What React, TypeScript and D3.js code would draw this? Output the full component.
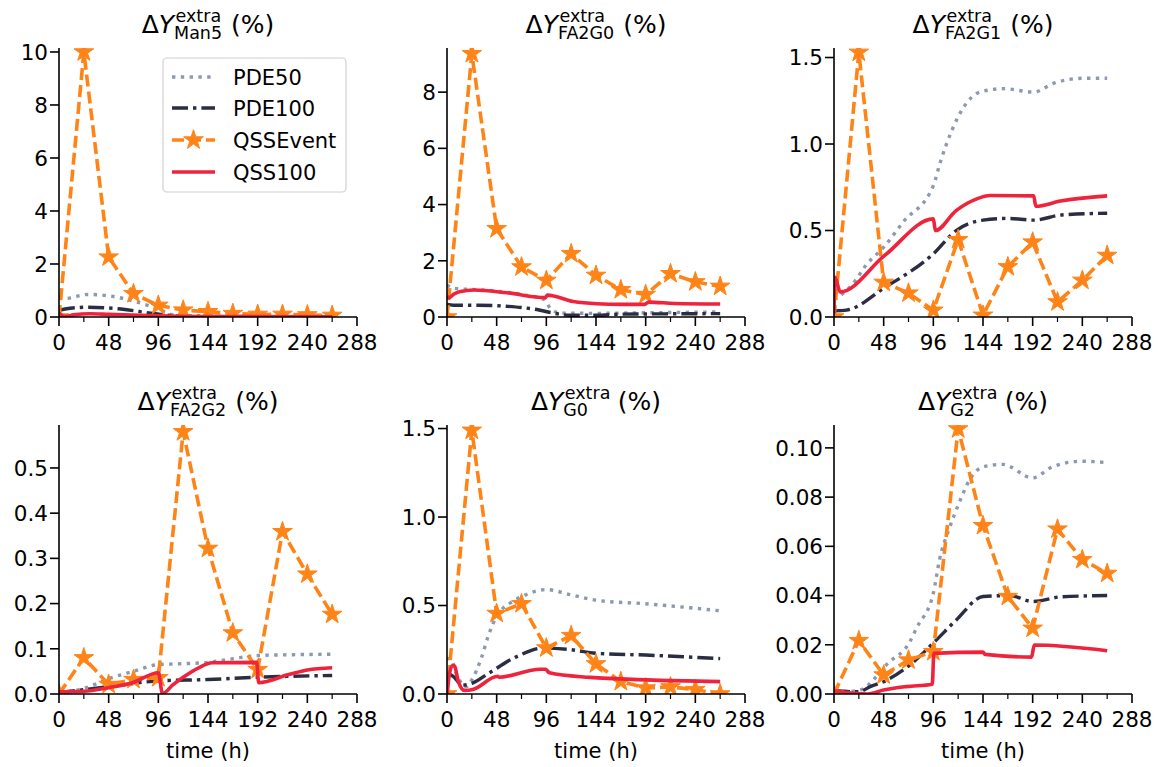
import React from 'react';
import * as d3 from 'd3';

// ---------------- DATA ----------------
const EVENT_T = [0, 24, 48, 72, 96, 120, 144, 168, 192, 216, 240, 264];
const X_TICKS = [0, 48, 96, 144, 192, 240, 288];
const X_MINOR = [24, 72, 120, 168, 216, 264];
const SERIES_NAMES = ['PDE50', 'PDE100', 'QSSEvent', 'QSS100'];
const PANEL_SUBS = ['Man5', 'FA2G0', 'FA2G1', 'FA2G2', 'G0', 'G2'];
const Y_MAX = [10.15, 9.57, 1.555, 0.595, 1.52, 0.1093];
const Y_TICKS_MAN5 = [0, 2, 4, 6, 8, 10];
const Y_TICKS_FA2G0 = [0, 2, 4, 6, 8];
const Y_TICKS_FA2G1 = [0, 0.5, 1.0, 1.5];
const Y_TICKS_FA2G2 = [0, 0.1, 0.2, 0.3, 0.4, 0.5];
const Y_TICKS_G0 = [0, 0.5, 1.0, 1.5];
const Y_TICKS_G2 = [0, 0.02, 0.04, 0.06, 0.08, 0.1];
const Y_FORMATS = ['d', 'd', '.1f', '.1f', '.1f', '.2f'];

// Man5
const MAN5_EVENT = [0, 10.0, 2.26, 0.88, 0.44, 0.26, 0.2, 0.13, 0.1, 0.1, 0.08, 0.06];
const MAN5_PDE50: [number, number][] = [[0, 0.75], [6, 0.7], [28, 0.85], [48, 0.8], [72, 0.6], [96, 0.3], [108, 0.1], [120, 0.02], [144, 0.01], [264, 0.01]];
const MAN5_PDE100: [number, number][] = [[0, 0.25], [6, 0.3], [28, 0.37], [60, 0.3], [92, 0.13], [120, 0.03], [264, 0.01]];
const MAN5_QSS: [number, number][] = [[0, 0.15], [3, 0.05], [6, 0.02], [14, 0.08], [30, 0.12], [48, 0.1], [96, 0.05], [144, 0.02], [264, 0.01]];

// FA2G0
const FA2G0_EVENT = [0, 9.37, 3.14, 1.78, 1.3, 2.25, 1.48, 0.97, 0.8, 1.54, 1.25, 1.09];
const FA2G0_PDE50: [number, number][] = [[0, 1.15], [4, 1.05], [12, 1.0], [24, 0.98], [48, 0.92], [72, 0.8], [94, 0.62], [100, 0.3], [110, 0.14], [144, 0.13], [192, 0.15], [264, 0.18]];
const FA2G0_PDE100: [number, number][] = [[0, 0.45], [6, 0.42], [30, 0.42], [58, 0.38], [89, 0.25], [100, 0.16], [120, 0.06], [144, 0.06], [168, 0.1], [264, 0.12]];
const FA2G0_QSS: [number, number][] = [[0, 0.75], [2, 0.68], [6, 0.8], [12, 0.9], [26, 0.96], [58, 0.86], [95, 0.69], [97, 0.78], [122, 0.55], [145, 0.47], [168, 0.45], [191, 0.45], [195, 0.53], [220, 0.48], [264, 0.46]];

// FA2G1
const FA2G1_EVENT = [0, 1.53, 0.2, 0.138, 0.039, 0.447, 0.01, 0.29, 0.433, 0.087, 0.212, 0.356];
const FA2G1_PDE50: [number, number][] = [[0, 0.1], [4, 0.115], [18, 0.19], [31, 0.3], [49, 0.41], [67, 0.55], [96, 0.76], [103, 0.9], [114, 1.08], [125, 1.21], [141, 1.3], [164, 1.32], [193, 1.3], [212, 1.35], [241, 1.38], [264, 1.38]];
const FA2G1_PDE100: [number, number][] = [[0, 0.036], [12, 0.04], [49, 0.17], [96, 0.365], [118, 0.5], [144, 0.56], [168, 0.57], [193, 0.56], [220, 0.59], [264, 0.6]];
const FA2G1_QSS: [number, number][] = [[0, 0.02], [1, 0.23], [6, 0.145], [49, 0.356], [96, 0.567], [98, 0.5], [118, 0.615], [138, 0.683], [151, 0.702], [193, 0.7], [195, 0.64], [219, 0.67], [264, 0.7]];

// FA2G2
const FA2G2_EVENT = [0, 0.08, 0.021, 0.032, 0.036, 0.58, 0.322, 0.135, 0.054, 0.359, 0.265, 0.176];
const FA2G2_PDE50: [number, number][] = [[0, 0.003], [24, 0.012], [48, 0.034], [72, 0.05], [96, 0.065], [120, 0.067], [144, 0.07], [168, 0.078], [192, 0.085], [228, 0.087], [264, 0.088]];
const FA2G2_PDE100: [number, number][] = [[0, 0.003], [48, 0.016], [96, 0.029], [144, 0.032], [192, 0.037], [264, 0.041]];
const FA2G2_QSS: [number, number][] = [[0, 0.005], [24, 0.006], [48, 0.014], [71, 0.025], [96, 0.047], [100, 0.001], [110, 0.02], [120, 0.037], [135, 0.058], [148, 0.069], [191, 0.07], [193, 0.025], [222, 0.043], [240, 0.053], [264, 0.058]];

// G0
const G0_EVENT = [0, 1.49, 0.455, 0.51, 0.26, 0.33, 0.17, 0.07, 0.034, 0.04, 0.025, 0.0];
const G0_PDE50: [number, number][] = [[0, 0.2], [3, 0.2], [10, 0.1], [18, 0.04], [24, 0.08], [33, 0.2], [40, 0.33], [48, 0.44], [60, 0.51], [72, 0.55], [96, 0.59], [120, 0.56], [144, 0.53], [192, 0.51], [264, 0.47]];
const G0_PDE100: [number, number][] = [[0, 0.12], [6, 0.1], [15, 0.05], [24, 0.06], [41, 0.12], [67, 0.21], [93, 0.26], [120, 0.25], [144, 0.23], [192, 0.22], [264, 0.2]];
const G0_QSS: [number, number][] = [[0, 0.0], [2, 0.1], [5, 0.16], [7, 0.16], [11, 0.07], [17, 0.02], [25, 0.025], [49, 0.1], [50, 0.095], [90, 0.14], [95, 0.14], [99, 0.12], [138, 0.094], [193, 0.08], [264, 0.07]];

// G2
const G2_EVENT = [0, 0.0217, 0.0077, 0.0138, 0.0172, 0.1077, 0.0684, 0.0396, 0.0267, 0.067, 0.0546, 0.049];
const G2_PDE50: [number, number][] = [[0, 0.001], [14, 0.001], [28, 0.002], [38, 0.0057], [51, 0.012], [73, 0.021], [80, 0.027], [96, 0.041], [102, 0.0546], [111.6, 0.0675], [121, 0.0777], [131, 0.087], [144, 0.0923], [163, 0.0933], [192, 0.0878], [211, 0.0923], [240, 0.0946], [264, 0.094]];
const G2_PDE100: [number, number][] = [[0, 0.0013], [24, 0.0009], [35, 0.003], [48, 0.005], [74, 0.012], [99, 0.022], [118, 0.03], [144, 0.0396], [170, 0.04], [192, 0.0376], [220, 0.0395], [264, 0.04]];
const G2_QSS: [number, number][] = [[0, 0.0013], [33, 0.0], [48, 0.0016], [70, 0.003], [95, 0.004], [96.5, 0.0165], [144, 0.017], [146, 0.0161], [191, 0.015], [193.5, 0.0199], [264, 0.0176]];

// ---------------- LAYOUT / STYLE ----------------
const W = 1160;
const H = 767;
const COL_X = [59, 447, 834];
const ROW_TOP = [48, 425];
const PW = 298;
const PH = 269;
const FONT = '"DejaVu Sans", sans-serif';
const C_PDE50 = '#8d99ae';
const C_PDE100 = '#2b2d42';
const C_EVENT = '#ff8418';
const C_QSS = '#ef233c';
const STAR_SIZE = 120;
const TICK_FS = 21.5;

const panels = [
  { sub: PANEL_SUBS[0], ymax: Y_MAX[0], yticks: Y_TICKS_MAN5, fmt: Y_FORMATS[0], ev: MAN5_EVENT, p50: MAN5_PDE50, p100: MAN5_PDE100, qss: MAN5_QSS },
  { sub: PANEL_SUBS[1], ymax: Y_MAX[1], yticks: Y_TICKS_FA2G0, fmt: Y_FORMATS[1], ev: FA2G0_EVENT, p50: FA2G0_PDE50, p100: FA2G0_PDE100, qss: FA2G0_QSS },
  { sub: PANEL_SUBS[2], ymax: Y_MAX[2], yticks: Y_TICKS_FA2G1, fmt: Y_FORMATS[2], ev: FA2G1_EVENT, p50: FA2G1_PDE50, p100: FA2G1_PDE100, qss: FA2G1_QSS },
  { sub: PANEL_SUBS[3], ymax: Y_MAX[3], yticks: Y_TICKS_FA2G2, fmt: Y_FORMATS[3], ev: FA2G2_EVENT, p50: FA2G2_PDE50, p100: FA2G2_PDE100, qss: FA2G2_QSS },
  { sub: PANEL_SUBS[4], ymax: Y_MAX[4], yticks: Y_TICKS_G0, fmt: Y_FORMATS[4], ev: G0_EVENT, p50: G0_PDE50, p100: G0_PDE100, qss: G0_QSS },
  { sub: PANEL_SUBS[5], ymax: Y_MAX[5], yticks: Y_TICKS_G2, fmt: Y_FORMATS[5], ev: G2_EVENT, p50: G2_PDE50, p100: G2_PDE100, qss: G2_QSS },
];

let ctx: CanvasRenderingContext2D | null = null;
function textW(s: string, size: number, italic = false): number {
  if (!ctx) ctx = document.createElement('canvas').getContext('2d');
  if (!ctx) return s.length * size * 0.6;
  ctx.font = `${italic ? 'italic ' : ''}${size}px "DejaVu Sans"`;
  return ctx.measureText(s).width;
}

const starPath = d3.symbol().type(d3.symbolStar).size(STAR_SIZE)() as string;

function Title({ cx, top, sub }: { cx: number; top: number; sub: string }) {
  const big = 25;
  const small = 17.5;
  const wD = textW('Δ', big);
  const wY = textW('Y', big, true);
  const wSup = textW('extra', small);
  const wSub = textW(sub, small);
  const wRest = textW(' (%)', big);
  const total = wD + wY + 1 + Math.max(wSup, wSub) + wRest;
  const x0 = cx - total / 2;
  const base = top - 15;
  const scriptX = x0 + wD + wY;
  return (
    <text x={x0} y={base} fontFamily={FONT} fontSize={big} fill="#000" style={{ whiteSpace: 'pre' }}>
      Δ<tspan fontStyle="italic">Y</tspan>
      <tspan x={scriptX + 1.5} y={base - 11} fontSize={small}>extra</tspan>
      <tspan x={scriptX} y={base + 6} fontSize={small}>{sub}</tspan>
      <tspan x={scriptX + 1 + Math.max(wSup, wSub)} y={base}>{' (%)'}</tspan>
    </text>
  );
}

function Panel({ idx }: { idx: number }) {
  const p = panels[idx];
  const row = Math.floor(idx / 3);
  const col = idx % 3;
  const x0 = COL_X[col];
  const top = ROW_TOP[row];
  const bottom = top + PH;
  const x = d3.scaleLinear().domain([0, 288]).range([x0, x0 + PW]);
  const y = d3.scaleLinear().domain([0, p.ymax]).range([bottom, top]);
  const line = d3.line<[number, number]>().x((d) => x(d[0])).y((d) => y(d[1])).curve(d3.curveMonotoneX);
  const lineLin = d3.line<[number, number]>().x((d) => x(d[0])).y((d) => y(d[1]));
  const evPts: [number, number][] = EVENT_T.map((t, i) => [t, p.ev[i]]);
  const fmt = d3.format(p.fmt);
  const clipId = `clip${idx}`;
  return (
    <g>
      <defs>
        <clipPath id={clipId}>
          <rect x={x0} y={top} width={PW} height={PH} />
        </clipPath>
      </defs>
      <g clipPath={`url(#${clipId})`} fill="none">
        <path d={line(p.p50) as string} stroke={C_PDE50} strokeWidth={3.4} strokeDasharray="3.4 5.4" />
        <path d={line(p.p100) as string} stroke={C_PDE100} strokeWidth={3.4} strokeDasharray="16 5 3.4 5" />
        <path d={lineLin(evPts) as string} stroke={C_EVENT} strokeWidth={3.6} strokeDasharray="12 5" />
        {evPts.map((d, i) => (
          <path key={i} d={starPath} transform={`translate(${x(d[0])},${y(d[1])})`} fill={C_EVENT} stroke={C_EVENT} strokeWidth={1} />
        ))}
        <path d={line(p.qss) as string} stroke={C_QSS} strokeWidth={3.6} />
      </g>
      {/* spines */}
      <line x1={x0} x2={x0} y1={top} y2={bottom} stroke="#000" strokeWidth={1.6} />
      <line x1={x0} x2={x0 + PW} y1={bottom} y2={bottom} stroke="#000" strokeWidth={1.6} />
      {/* x ticks */}
      {X_TICKS.map((t) => (
        <g key={`xt${t}`}>
          <line x1={x(t)} x2={x(t)} y1={bottom} y2={bottom + 9} stroke="#000" strokeWidth={1.6} />
          <text x={x(t)} y={bottom + 33} textAnchor="middle" fontSize={TICK_FS} fontFamily={FONT}>{t}</text>
        </g>
      ))}
      {X_MINOR.map((t) => (
        <line key={`xm${t}`} x1={x(t)} x2={x(t)} y1={bottom} y2={bottom + 5} stroke="#000" strokeWidth={1.2} />
      ))}
      {/* y ticks */}
      {p.yticks.map((v) => (
        <g key={`yt${v}`}>
          <line x1={x0 - 9} x2={x0} y1={y(v)} y2={y(v)} stroke="#000" strokeWidth={1.6} />
          <text x={x0 - 11} y={y(v) + 7.8} textAnchor="end" fontSize={TICK_FS} fontFamily={FONT}>{fmt(v)}</text>
        </g>
      ))}
      <Title cx={x0 + PW / 2} top={top} sub={p.sub} />
      {row === 1 && (
        <text x={x0 + PW / 2} y={758} textAnchor="middle" fontSize={21} fontFamily={FONT}>time (h)</text>
      )}
    </g>
  );
}

function Legend() {
  const lx = 163;
  const ly = 58;
  const rowsY = [77, 108, 140, 172];
  const styles = [
    { c: C_PDE50, dash: '3.4 5.4', w: 3.4 },
    { c: C_PDE100, dash: '16 5 3.4 5', w: 3.4 },
    { c: C_EVENT, dash: '12 5', w: 3.6 },
    { c: C_QSS, dash: undefined, w: 3.6 },
  ];
  return (
    <g>
      <rect x={lx} y={ly} width={183} height={134} rx={4} fill="#fff" fillOpacity={0.8} stroke="#d0d0d0" strokeWidth={1.2} />
      {SERIES_NAMES.map((n, i) => (
        <g key={n}>
          <line x1={172} x2={215} y1={rowsY[i]} y2={rowsY[i]} stroke={styles[i].c} strokeWidth={styles[i].w} strokeDasharray={styles[i].dash} />
          {i === 2 && <path d={starPath} transform={`translate(193.5,${rowsY[i]})`} fill={C_EVENT} stroke={C_EVENT} />}
          <text x={233} y={rowsY[i] + 7.5} fontSize={21} fontFamily={FONT}>{n}</text>
        </g>
      ))}
    </g>
  );
}

export default function App() {
  return (
    <svg width={W} height={H} style={{ position: 'absolute', left: 0, top: 0, background: '#fff' }}>
      <rect width={W} height={H} fill="#fff" />
      {panels.map((_, i) => (
        <Panel key={i} idx={i} />
      ))}
      <Legend />
    </svg>
  );
}
